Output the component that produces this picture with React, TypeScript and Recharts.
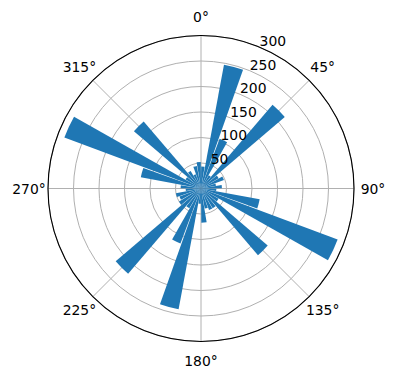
import React from 'react';
import { RadialBarChart, RadialBar, PolarGrid, PolarAngleAxis, PolarRadiusAxis } from 'recharts';

// 10 degree bins, start of bin in compass degrees (clockwise from north)
const binStarts = [0, 10, 20, 30, 40, 50, 60, 70, 80, 90, 100, 110, 120, 130, 140, 150, 160, 170,
  180, 190, 200, 210, 220, 230, 240, 250, 260, 270, 280, 290, 300, 310, 320, 330, 340, 350];
const counts = [43, 247, 104, 30, 216, 40, 48, 30, 41, 30, 117, 286, 40, 172, 45, 45, 40, 67,
  30, 241, 115, 45, 220, 50, 45, 50, 30, 40, 120, 286, 35, 173, 40, 30, 45, 52];

const angleTicks = [0, 45, 90, 135, 180, 225, 270, 315];
const radiusTicks = [50, 100, 150, 200, 250, 300];
const rMax = 300;

const data = binStarts.map((b, i) => ({ bin: String(b), count: counts[i] }));

const CX = 201;
const CY = 188.5;
const OUTER = 153;
const FONT = 'DejaVu Sans, sans-serif';

// compass degrees -> recharts degrees (counter-clockwise from east)
const toChartAngle = (deg: number) => 90 - deg;

const RadiusTick = (props: any) => (
  <text x={props.x} y={props.y - 1} textAnchor="start" fontSize={13.9} fontFamily={FONT} fill="#000">
    {props.payload.value}
  </text>
);

const angleLabels = angleTicks.map((t) => {
  const a = (toChartAngle(t) * Math.PI) / 180;
  const r = OUTER + 19;
  return (
    <text
      key={t}
      x={CX + r * Math.cos(a)}
      y={CY - r * Math.sin(a)}
      textAnchor="middle"
      dominantBaseline="central"
      fontSize={13.9}
      fontFamily={FONT}
      fill="#000"
    >
      {t}°
    </text>
  );
});

export default function App() {
  return (
    <div style={{ position: 'absolute', left: 0, top: 0, background: '#fff' }}>
      <RadialBarChart
        width={396}
        height={380}
        data={data}
        layout="centric"
        cx={CX}
        cy={CY}
        innerRadius={0}
        outerRadius={OUTER}
        startAngle={80}
        endAngle={-280}
        barCategoryGap="5%"
        margin={{ top: 0, right: 0, bottom: 0, left: 0 }}
      >
        <PolarRadiusAxis
          radiusAxisId="r"
          type="number"
          domain={[0, rMax]}
          ticks={radiusTicks}
          angle={toChartAngle(22.5)}
          axisLine={false}
          tickLine={false}
          tick={RadiusTick}
        />
        <RadialBar angleAxisId="bins" radiusAxisId="r" dataKey="count" fill="#1f77b4" isAnimationActive={false} />
        <PolarGrid
          angleAxisId="bins"
          radiusAxisId="r"
          gridType="circle"
          stroke="#b0b0b0"
          strokeWidth={1}
          polarAngles={angleTicks.map(toChartAngle)}
          polarRadius={radiusTicks.map((v) => (v / rMax) * OUTER)}
        />
        <PolarAngleAxis
          angleAxisId="bins"
          dataKey="bin"
          type="category"
          tick={false}
          tickLine={false}
          axisLineType="circle"
          axisLine={{ stroke: '#000', strokeWidth: 1.1 }}
        />
        {angleLabels}
      </RadialBarChart>
    </div>
  );
}
